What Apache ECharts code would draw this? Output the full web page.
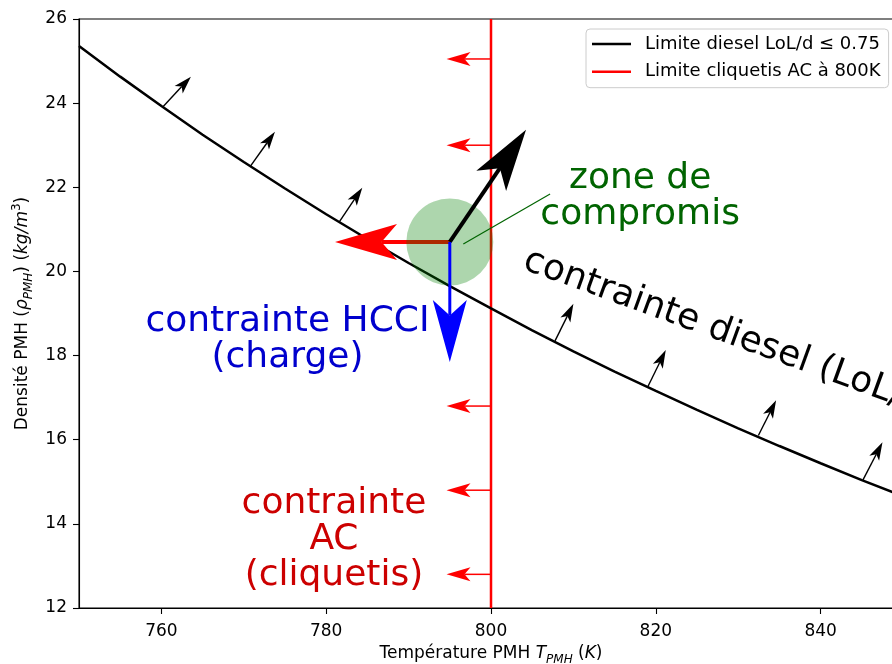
<!DOCTYPE html>
<html>
<head>
<meta charset="utf-8">
<script src="https://cdn.jsdelivr.net/npm/echarts@6/dist/echarts.min.js"></script>
<style>
  html, body { margin: 0; padding: 0; background: #fff; }
  #chart { width: 892px; height: 664px; }
</style>
</head>
<body>
<div id="chart"></div>
<script>
// Diesel limit curve (LoL/d <= 0.75): TDC density vs. TDC temperature
const dieselT = [750, 755, 760, 765, 770, 775, 780, 785, 790, 795, 800,
                 805, 810, 815, 820, 825, 830, 835, 840, 845, 850];
const dieselRho = [25.36, 24.63, 23.93, 23.25, 22.60, 21.97, 21.36, 20.77, 20.20, 19.65, 19.12,
                   18.60, 18.10, 17.62, 17.16, 16.71, 16.27, 15.85, 15.44, 15.04, 14.66];

// Knock limit of the AC engine
const knockLimitT = 800;
const rhoRange = [12, 26];
const tRange = [750, 850];
const tTickLabels = [760, 780, 800, 820, 840];

// Small arrows normal to the diesel limit: [T start, rho start, T tip, rho tip]
const dieselArrows = [
  [760.22, 23.92, 763.58, 24.63],
  [770.83, 22.51, 773.78, 23.32],
  [781.59, 21.18, 784.38, 21.99],
  [807.77, 18.35, 810.00, 19.23],
  [819.03, 17.26, 821.21, 18.13],
  [832.45, 16.10, 834.60, 16.94],
  [845.13, 15.04, 847.51, 15.94]
];

// Knock-side arrows, pointing to lower temperatures
const knockArrowRho = [25.05, 23.0, 16.8, 14.8, 12.8];
const knockArrowTipT = 794.6;

// Compromise point and the pull of each constraint
const compromisePoint = [795, 20.7];
const dieselPullTip = [804.25, 23.37];
const knockPullTip = [781.07, 20.7];
const hcciPullTip = [795, 17.85];
const calloutFrom = [796.64, 20.65];
const calloutTo = [807.17, 21.84];

const FONT = 'DejaVu Sans';

function arrowSeries(name, items, color, shaftWidth, headLen, headWidth, z) {
  return {
    type: 'custom',
    name: name,
    coordinateSystem: 'cartesian2d',
    silent: true,
    z: z,
    data: items,
    encode: { x: [0, 2], y: [1, 3] },
    renderItem: function (params, api) {
      const p0 = api.coord([api.value(0), api.value(1)]);
      const p1 = api.coord([api.value(2), api.value(3)]);
      const dx = p1[0] - p0[0], dy = p1[1] - p0[1];
      const len = Math.hypot(dx, dy);
      const ux = dx / len, uy = dy / len;
      const nx = -uy, ny = ux;
      const bx = p1[0] - ux * headLen, by = p1[1] - uy * headLen;
      const kx = p1[0] - ux * headLen * 0.75, ky = p1[1] - uy * headLen * 0.75;
      const hw = headWidth / 2;
      return {
        type: 'group',
        children: [
          { type: 'line', shape: { x1: p0[0], y1: p0[1], x2: kx, y2: ky },
            style: { stroke: color, lineWidth: shaftWidth } },
          { type: 'polygon',
            shape: { points: [[p1[0], p1[1]], [bx + nx * hw, by + ny * hw], [kx, ky], [bx - nx * hw, by - ny * hw]] },
            style: { fill: color } }
        ]
      };
    }
  };
}

const annotations = [
  { text: 'zone de\ncompromis', at: [818.1, 21.77], color: '#006400', align: 'center', rotate: 0 },
  { text: 'contrainte HCCI\n(charge)', at: [775.3, 18.39], color: '#0000cd', align: 'center', rotate: 0 },
  { text: 'contrainte\nAC\n(cliquetis)', at: [780.94, 13.62], color: '#cc0000', align: 'center', rotate: 0 },
  { text: 'contrainte diesel (LoL/d)', at: [804.1, 20.28], color: '#000000', align: 'left', rotate: -20 }
];

const axisRich = {
  n: { fontFamily: FONT, fontSize: 17, color: '#000', lineHeight: 24 },
  i: { fontFamily: FONT, fontSize: 17, color: '#000', fontStyle: 'italic', lineHeight: 24 },
  sub: { fontFamily: FONT, fontSize: 12, color: '#000', fontStyle: 'italic', verticalAlign: 'bottom', lineHeight: 24 },
  sup: { fontFamily: FONT, fontSize: 12, color: '#000', verticalAlign: 'top', lineHeight: 24 }
};

const legendLine = 'path://M0,0 L39,0 L39,2.5 L0,2.5 Z';

const chart = echarts.init(document.getElementById('chart'), null, { renderer: 'canvas' });

chart.setOption({
  animation: false,
  backgroundColor: '#ffffff',
  grid: {
    left: 79, top: 19, bottom: 56, right: -11,
    containLabel: false,
    outerBoundsMode: 'none',
    show: true, borderColor: '#000', borderWidth: 1.1, backgroundColor: 'transparent'
  },
  legend: {
    orient: 'vertical',
    left: 586, top: 29,
    itemWidth: 39, itemHeight: 18, itemGap: 9.7,
    padding: [6, 8, 7, 6],
    backgroundColor: 'rgba(255,255,255,0.85)',
    borderColor: '#cccccc', borderWidth: 1, borderRadius: 4,
    textStyle: { fontFamily: FONT, fontSize: 18, color: '#000', padding: [0, 0, 0, 9] },
    data: [
      { name: 'Limite diesel LoL/d ≤ 0.75', icon: legendLine, itemStyle: { color: '#000000' } },
      { name: 'Limite cliquetis AC à 800K', icon: legendLine, itemStyle: { color: '#ff0000' } }
    ]
  },
  xAxis: {
    type: 'value',
    min: tRange[0], max: tRange[1],
    splitLine: { show: false },
    axisLine: { show: true, onZero: false, lineStyle: { color: '#000', width: 1.1 } },
    axisTick: { show: true, length: 6, lineStyle: { color: '#000', width: 1.1 }, customValues: tTickLabels },
    axisLabel: { customValues: tTickLabels, fontFamily: FONT, fontSize: 17, color: '#000', margin: 15 },
    name: '{n|Température PMH }{i|T}{sub|PMH}{n| (}{i|K}{n|)}',
    nameLocation: 'middle',
    nameGap: 34,
    nameTextStyle: { rich: axisRich }
  },
  yAxis: {
    type: 'value',
    min: rhoRange[0], max: rhoRange[1], interval: 2,
    splitLine: { show: false },
    axisLine: { show: true, onZero: false, lineStyle: { color: '#000', width: 1.1 } },
    axisTick: { show: true, length: 6, lineStyle: { color: '#000', width: 1.1 } },
    axisLabel: { fontFamily: FONT, fontSize: 17, color: '#000', margin: 12 },
    name: '{n|Densité PMH (}{i|ρ}{sub|PMH}{n|) (}{i|kg/m}{sup|3}{n|)}',
    nameLocation: 'middle',
    nameGap: 43,
    nameTextStyle: { rich: axisRich }
  },
  series: [
    {
      type: 'line', name: 'Limite cliquetis AC à 800K', z: 2,
      data: [[knockLimitT, rhoRange[0]], [knockLimitT, rhoRange[1]]],
      symbol: 'none', silent: true,
      lineStyle: { color: '#ff0000', width: 2.5 },
      itemStyle: { color: '#ff0000' }
    },
    {
      type: 'line', name: 'Limite diesel LoL/d ≤ 0.75', z: 3,
      data: dieselT.map((t, i) => [t, dieselRho[i]]),
      symbol: 'none', silent: true,
      lineStyle: { color: '#000000', width: 2.5 },
      itemStyle: { color: '#000000' }
    },
    arrowSeries('knockArrows', knockArrowRho.map(r => [knockLimitT, r, knockArrowTipT, r]),
                '#ff0000', 1.5, 24, 14, 4),
    arrowSeries('dieselArrows', dieselArrows, '#000000', 1.4, 18, 11, 5),
    arrowSeries('knockPull', [[compromisePoint[0], compromisePoint[1], knockPullTip[0], knockPullTip[1]]],
                '#ff0000', 4, 62, 36, 6),
    {
      type: 'scatter', name: 'compromise', z: 7, silent: true,
      data: [compromisePoint],
      symbol: 'circle', symbolSize: 87,
      itemStyle: { color: 'rgba(0,128,0,0.4)' }
    },
    arrowSeries('dieselPull', [[compromisePoint[0], compromisePoint[1], dieselPullTip[0], dieselPullTip[1]]],
                '#000000', 4, 62, 36, 8),
    arrowSeries('hcciPull', [[compromisePoint[0], compromisePoint[1], hcciPullTip[0], hcciPullTip[1]]],
                '#0000ff', 3, 62, 34, 9),
    {
      type: 'line', name: 'callout', z: 10, silent: true,
      data: [calloutFrom, calloutTo],
      symbol: 'none',
      lineStyle: { color: '#006400', width: 1.2 }
    },
    {
      type: 'custom', name: 'annotations', z: 11, silent: true,
      coordinateSystem: 'cartesian2d',
      data: annotations.map(a => a.at),
      renderItem: function (params, api) {
        const a = annotations[params.dataIndex];
        const p = api.coord([api.value(0), api.value(1)]);
        return {
          type: 'text',
          x: p[0], y: p[1],
          rotation: a.rotate * Math.PI / 180,
          style: {
            text: a.text,
            fill: a.color,
            fontFamily: FONT,
            fontSize: 36,
            lineHeight: 36,
            align: a.align,
            verticalAlign: 'middle'
          }
        };
      }
    }
  ]
});
</script>
</body>
</html>
